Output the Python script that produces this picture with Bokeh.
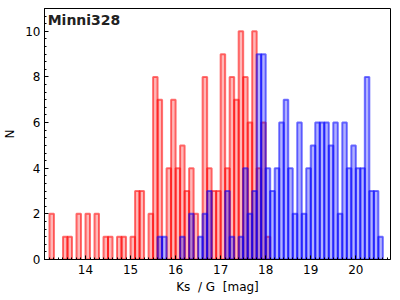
from bokeh.plotting import figure
from bokeh.models import Range1d, Label, SingleIntervalTicker
from bokeh.embed import file_html
from bokeh.resources import INLINE

# Ks histogram (bin centers, counts)
red_mag = [13.25, 13.55, 13.65, 13.85, 14.05, 14.25, 14.45, 14.55, 14.75, 14.85,
           15.05, 15.15, 15.25, 15.45, 15.55, 15.65, 15.85, 15.95, 16.05, 16.15,
           16.25, 16.35, 16.45, 16.65, 16.75, 16.85, 16.95, 17.05, 17.15, 17.25,
           17.35, 17.45, 17.55, 17.65, 17.75, 17.85, 17.95, 18.05]
red_n = [2, 1, 1, 2, 2, 2, 1, 1, 1, 1,
         1, 3, 3, 2, 8, 7, 4, 7, 4, 5,
         3, 4, 2, 8, 4, 3, 3, 9, 4, 8,
         7, 10, 8, 6, 10, 4, 6, 1]

# G histogram (bin centers, counts)
blue_mag = [15.65, 15.75, 16.15, 16.35, 16.55, 16.65, 16.75, 17.15, 17.25, 17.45,
            17.55, 17.65, 17.75, 17.85, 17.95, 18.05, 18.15, 18.25, 18.35, 18.45,
            18.55, 18.65, 18.75, 18.85, 18.95, 19.05, 19.15, 19.25, 19.35, 19.45,
            19.55, 19.65, 19.75, 19.85, 19.95, 20.05, 20.15, 20.25, 20.35, 20.45,
            20.55]
blue_n = [1, 1, 1, 2, 1, 2, 3, 3, 1, 1,
          4, 2, 3, 9, 9, 4, 3, 4, 6, 7,
          4, 2, 6, 2, 4, 5, 6, 6, 6, 5,
          6, 2, 6, 4, 5, 4, 4, 8, 3, 3,
          1]
bin_width = 0.1

title_text = "Minni328"
x_label = "Ks\u00a0\u00a0/ G\u00a0\u00a0[mag]"
y_label = "N"

FONT = "DejaVu Sans"

p = figure(width=400, height=300,
           x_range=Range1d(13.09, 20.77), y_range=Range1d(0, 11),
           output_backend="svg", toolbar_location=None,
           min_border_left=42, min_border_right=10,
           min_border_top=8, min_border_bottom=41)

p.vbar(x=red_mag, top=red_n, width=bin_width, bottom=0,
       fill_color="#ff0000", fill_alpha=0.28,
       line_color="#ff0000", line_alpha=0.55, line_width=2)
p.vbar(x=blue_mag, top=blue_n, width=bin_width, bottom=0,
       fill_color="#0000ff", fill_alpha=0.3,
       line_color="#0000ff", line_alpha=0.55, line_width=2)

p.xgrid.visible = False
p.ygrid.visible = False
p.outline_line_color = "black"
p.outline_line_alpha = 1.0
p.outline_line_width = 1
p.background_fill_color = "white"
p.border_fill_color = "white"

p.xaxis.ticker = SingleIntervalTicker(interval=1, num_minor_ticks=10)
p.yaxis.ticker = SingleIntervalTicker(interval=2, num_minor_ticks=6)

for ax in (p.xaxis, p.yaxis):
    ax.major_tick_in = 4
    ax.major_tick_out = 0
    ax.minor_tick_in = 2
    ax.minor_tick_out = 0
    ax.axis_line_color = "black"
    ax.major_tick_line_color = "black"
    ax.minor_tick_line_color = "black"
    ax.major_label_text_font = FONT
    ax.major_label_text_font_size = "12px"
    ax.major_label_text_color = "black"
    ax.axis_label_text_font = FONT
    ax.axis_label_text_font_size = "12px"
    ax.axis_label_text_font_style = "normal"
    ax.axis_label_text_color = "black"

p.xaxis.axis_label = x_label
p.yaxis.axis_label = y_label
p.xaxis.major_label_standoff = 5
p.xaxis.axis_label_standoff = 3
p.yaxis.major_label_standoff = 4
p.yaxis.axis_label_standoff = 5
p.yaxis.major_label_orientation = "horizontal"

p.add_layout(Label(x=13.16, y=10.48, text=title_text,
                   text_font=FONT, text_font_size="14px",
                   text_font_style="bold", text_color="#222222",
                   text_baseline="middle", text_align="left"))

open("out.html", "w").write(file_html(p, INLINE))
